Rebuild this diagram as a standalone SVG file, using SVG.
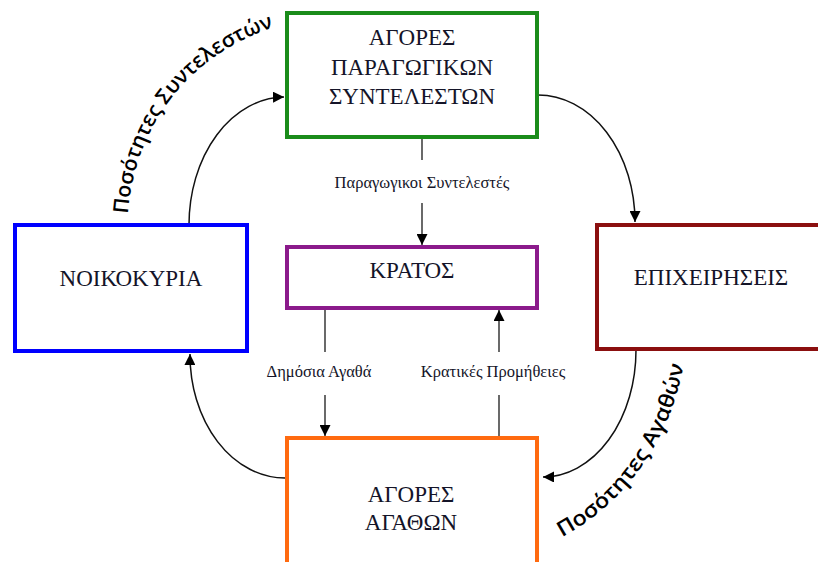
<svg xmlns="http://www.w3.org/2000/svg" width="818" height="562" viewBox="0 0 818 562">
<style>
.box{fill:#fff;stroke-width:4}
.lbl{font-family:"Liberation Serif","Times New Roman",serif;font-size:23px;fill:#141428;text-anchor:middle}
.sm{font-family:"Liberation Serif","Times New Roman",serif;font-size:16.5px;fill:#141428;text-anchor:middle}
.cv{font-family:"Open Sans","Liberation Sans",sans-serif;font-size:21px;font-weight:600;fill:#000}
.ln{fill:none;stroke:#444;stroke-width:1.6}
.ar{fill:none;stroke:#111;stroke-width:1.5}
</style>
<defs>
<marker id="ah" viewBox="0 0 10 10" refX="10" refY="5" markerWidth="11" markerHeight="11" markerUnits="userSpaceOnUse" orient="auto">
<path d="M0,0 L10,5 L0,10 Z" fill="#000"/>
</marker>
<path id="p1" d="M 128,214 C 134,130 185,55 278,26"/>
<path id="p2" d="M 562,537 C 620,506 672,446 686,352"/>
</defs>
<rect width="818" height="562" fill="#fff"/>
<g id="connectors">
<path class="ar" d="M189,225 A96,128 0 0 1 284,97" marker-end="url(#ah)"/>
<path class="ar" d="M538,95 A97,127 0 0 1 635,222" marker-end="url(#ah)"/>
<path class="ar" d="M636,350 A93,127 0 0 1 543,477" marker-end="url(#ah)"/>
<path class="ar" d="M285,478 A95,123 0 0 1 190,354" marker-end="url(#ah)"/>
<line class="ln" x1="422" y1="138" x2="422" y2="160"/>
<line class="ln" x1="422" y1="203" x2="422" y2="245" marker-end="url(#ah)"/>
<text class="sm" x="422" y="188">Παραγωγικοι Συντελεστές</text>
<line class="ln" x1="325" y1="309" x2="325" y2="352"/>
<line class="ln" x1="325" y1="395" x2="325" y2="436" marker-end="url(#ah)"/>
<text class="sm" x="319" y="377">Δημόσια Αγαθά</text>
<line class="ln" x1="499" y1="437" x2="499" y2="395"/>
<line class="ln" x1="499" y1="352" x2="499" y2="310" marker-end="url(#ah)"/>
<text class="sm" x="493" y="377">Κρατικές Προμήθειες</text>
<text class="cv"><textPath href="#p1" textLength="252" lengthAdjust="spacingAndGlyphs">Ποσότητες Συντελεστών</textPath></text>
<text class="cv"><textPath href="#p2" textLength="218" lengthAdjust="spacingAndGlyphs">Ποσότητες Αγαθών</textPath></text>
</g>
<g id="agores-paragogikon">
<rect class="box" x="287" y="13" width="250" height="124" stroke="#1a8c1a"/>
<text class="lbl" x="412" y="45">ΑΓΟΡΕΣ</text>
<text class="lbl" x="412" y="75">ΠΑΡΑΓΩΓΙΚΩΝ</text>
<text class="lbl" x="412" y="104">ΣΥΝΤΕΛΕΣΤΩΝ</text>
</g>
<g id="noikokyria">
<rect class="box" x="15" y="225" width="232" height="126" stroke="#0000ff"/>
<text class="lbl" x="131" y="286">ΝΟΙΚΟΚΥΡΙΑ</text>
</g>
<g id="kratos">
<rect class="box" x="287" y="247" width="250" height="61" stroke="#8b1a8b"/>
<text class="lbl" x="412" y="278">ΚΡΑΤΟΣ</text>
</g>
<g id="epicheiriseis">
<rect class="box" x="597" y="225" width="240" height="124" stroke="#8b0f0f"/>
<text class="lbl" x="711" y="285">ΕΠΙΧΕΙΡΗΣΕΙΣ</text>
</g>
<g id="agores-agathon">
<rect class="box" x="287" y="438" width="250" height="140" stroke="#ff6a10"/>
<text class="lbl" x="411" y="502">ΑΓΟΡΕΣ</text>
<text class="lbl" x="411" y="530">ΑΓΑΘΩΝ</text>
</g>
</svg>
